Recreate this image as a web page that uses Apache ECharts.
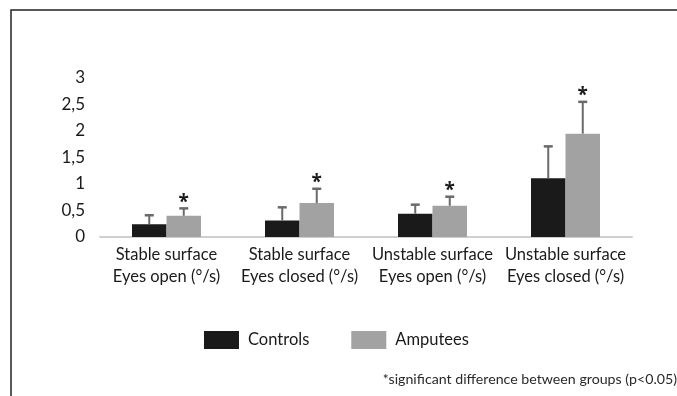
<!DOCTYPE html>
<html>
<head>
<meta charset="utf-8">
<script src="https://cdn.jsdelivr.net/npm/echarts@6/dist/echarts.min.js"></script>
<style>
html,body{margin:0;padding:0;background:#fff;}
#c{width:677px;height:396px;}
</style>
</head>
<body>
<div id="c"></div>
<script>
// ---- data ----
var categories = [
  'Stable surface\nEyes open (°/s)',
  'Stable surface\nEyes closed (°/s)',
  'Unstable surface\nEyes open (°/s)',
  'Unstable surface\nEyes closed (°/s)'
];
var controls = [0.24, 0.31, 0.44, 1.11];
var controlsErr = [0.17, 0.25, 0.17, 0.60];
var amputees = [0.40, 0.64, 0.59, 1.95];
var amputeesErr = [0.14, 0.27, 0.17, 0.60];
var significant = [true, true, true, true];
var yTicks = [0, 0.5, 1, 1.5, 2, 2.5, 3];
var footnote = '*significant difference between groups (p<0.05)';

var FONT = 'Lato, "Open Sans", sans-serif';
var STAR_FONT = '"Open Sans", sans-serif';
var BAR_W = 34.5;

var chart = echarts.init(document.getElementById('c'), null, {renderer: 'canvas'});

function errorItem(values, errs, side, star) {
  return function (params, api) {
    var i = api.value(0);
    var v = api.value(1);
    var e = api.value(2);
    var base = api.coord([i, v]);
    var top = api.coord([i, v + e]);
    var x = base[0] + side * BAR_W / 2;
    var children = [
      {type: 'line', shape: {x1: x, y1: base[1], x2: x, y2: top[1]},
       style: {stroke: '#6a6a6a', lineWidth: 2}},
      {type: 'line', shape: {x1: x - 4.5, y1: top[1], x2: x + 4.5, y2: top[1]},
       style: {stroke: '#6a6a6a', lineWidth: 2.5}}
    ];
    if (star && significant[i]) {
      children.push({type: 'text', x: x, y: top[1] - 6,
        style: {text: '*', font: 'bold 19px ' + STAR_FONT, fill: '#1a1a1a',
                align: 'center', verticalAlign: 'middle'}});
    }
    return {type: 'group', children: children};
  };
}

var option = {
  backgroundColor: '#fff',
  animation: false,
  grid: {left: 100, right: 45, top: 78, bottom: 159},
  legend: {
    left: 204, top: 331, padding: 0,
    itemWidth: 35, itemHeight: 18, itemGap: 42,
    icon: 'rect',
    data: ['Controls', 'Amputees'],
    textStyle: {fontFamily: FONT, fontSize: 16.5, color: '#1a1a1a', padding: [0, 0, 0, 4]}
  },
  xAxis: {
    type: 'category',
    data: categories,
    axisLine: {show: true, lineStyle: {color: '#cfcfcf', width: 2}},
    axisTick: {show: false},
    axisLabel: {fontFamily: FONT, fontSize: 16.5, color: '#1a1a1a', lineHeight: 22, margin: 7, interval: 0}
  },
  yAxis: {
    type: 'value',
    min: yTicks[0], max: yTicks[yTicks.length - 1], interval: 0.5,
    axisLine: {show: false},
    axisTick: {show: false},
    splitLine: {show: false},
    axisLabel: {fontFamily: FONT, fontSize: 17, color: '#1a1a1a', margin: 15,
      padding: [8, 0, 0, 0],
      formatter: function (v) { return String(v).replace('.', ','); }}
  },
  series: [
    {name: 'Controls', type: 'bar', data: controls, barWidth: BAR_W, barGap: '0%',
     itemStyle: {color: '#1a1a1a'}},
    {name: 'Amputees', type: 'bar', data: amputees, barWidth: BAR_W, barGap: '0%',
     itemStyle: {color: '#a2a2a2'}},
    {type: 'custom', name: 'errC', silent: true,
     data: controls.map(function (v, i) { return [i, v, controlsErr[i]]; }),
     renderItem: errorItem(controls, controlsErr, -1, false), z: 10},
    {type: 'custom', name: 'errA', silent: true,
     data: amputees.map(function (v, i) { return [i, v, amputeesErr[i]]; }),
     renderItem: errorItem(amputees, amputeesErr, 1, true), z: 10}
  ],
  graphic: [
    {type: 'rect', shape: {x: 11, y: 10, width: 720, height: 420},
     style: {fill: 'none', stroke: '#222', lineWidth: 1.5}, silent: true},
    {type: 'text', right: 0, top: 372,
     style: {text: footnote, font: '14.2px ' + FONT, fill: '#2a2a2a'}}
  ]
};
chart.setOption(option);
</script>
</body>
</html>
